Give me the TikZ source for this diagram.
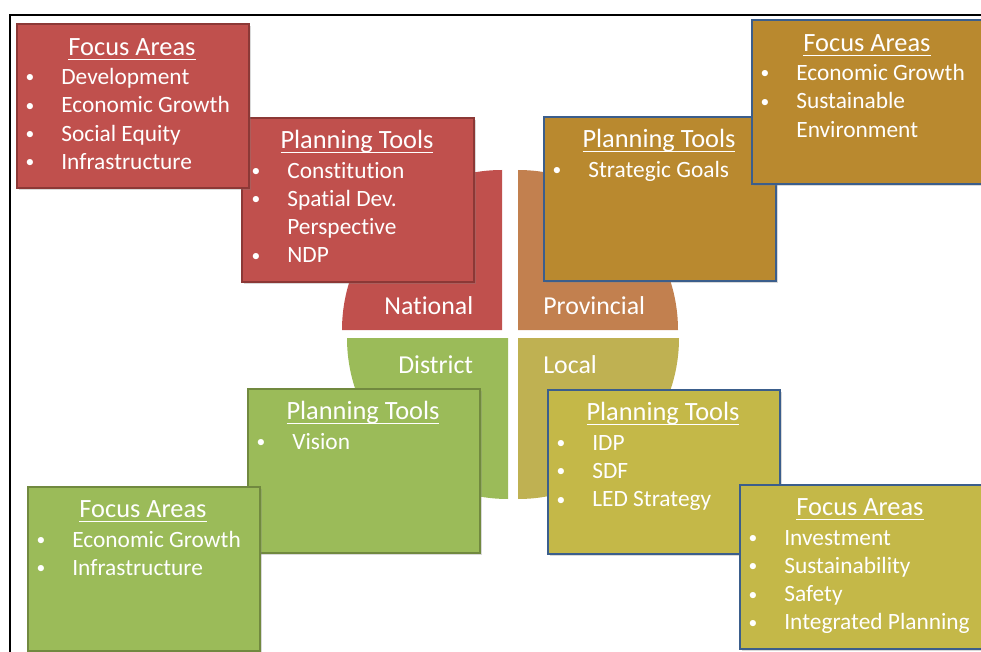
\documentclass[tikz,border=0pt]{standalone}
\usepackage{fontspec}
\setmainfont{Carlito}[Ligatures=NoCommon]
\usepackage{tikz}
\usetikzlibrary{shadows}

\definecolor{natred}{HTML}{C0504D}
\definecolor{natedge}{HTML}{8C3836}
\definecolor{provquad}{HTML}{C2804F}
\definecolor{provbox}{HTML}{B9892F}
\definecolor{distgreen}{HTML}{9BBB59}
\definecolor{distedge}{HTML}{71893F}
\definecolor{locquad}{HTML}{BFB152}
\definecolor{locbox}{HTML}{C4B848}
\definecolor{blueedge}{HTML}{3B5E8C}

% small bullet hanging left of the item text
\newcommand{\bl}{\llap{\raisebox{0.9pt}{\fontsize{10}{10}\selectfont\textbullet}\hspace{0.54cm}}}
% underlined heading
\newcommand{\ulhead}[1]{\setbox0\hbox{#1}\rlap{\rule[-2.5pt]{\wd0}{0.7pt}}\box0}

\begin{document}
\begin{tikzpicture}[x=0.02cm, y=-0.02cm,
  panel/.style={draw, line width=1.2pt, minimum width=4.64cm, minimum height=3.28cm,
    anchor=north west, inner sep=0pt,
    drop shadow={opacity=0.3, shadow xshift=1.2pt, shadow yshift=-1.2pt}},
  head/.style={text=white, inner sep=0pt, anchor=base, font=\fontsize{15}{18}\selectfont},
  item/.style={text=white, inner sep=0pt, anchor=base west, font=\fontsize{13.3}{16}\selectfont},
  level/.style={text=white, inner sep=0pt, anchor=base west, font=\fontsize{14.7}{18}\selectfont}]

  \useasboundingbox (0,0) rectangle (981,652);
  \clip (0,0) rectangle (981,652);
  \draw[line width=0.8pt] (10,15) rectangle (995,670);

  % the four quarters
  \fill[natred] (502,330) -- (342,330) arc[start angle=180, end angle=270, radius=160] -- cycle;
  \fill[provquad] (518,330) -- (678,330) arc[start angle=0, end angle=-90, radius=160] -- cycle;
  \fill[distgreen] (508,338) -- (347,338) arc[start angle=180, end angle=90, radius=161] -- cycle;
  \fill[locquad] (518,338) -- (679,338) arc[start angle=0, end angle=90, radius=161] -- cycle;

  \node[level] (national) at (384,314) {National};
  \node[level] (provincial) at (543,314) {Provincial};
  \node[level] (district) at (398,373) {District};
  \node[level] (local) at (543,373) {Local};

  % national
  \node[panel, fill=natred, draw=natedge] (natplan) at (241,117) {};
  \node[head] (natplan-t) at ([shift={(116,31.5)}]natplan.north west) {\ulhead{Planning Tools}};
  \foreach \t [count=\i] in {\bl Constitution, \bl Spatial Dev., Perspective, \bl NDP}
    \node[item] (natplan-\i) at ([shift={(46,61+28.3*\i-28.3)}]natplan.north west) {\t};

  \node[panel, fill=natred, draw=natedge] (natfocus) at (16,23) {};
  \node[head] (natfocus-t) at ([shift={(116,32.5)}]natfocus.north west) {\ulhead{Focus Areas}};
  \foreach \t [count=\i] in {\bl Development, \bl Economic Growth, \bl Social Equity, \bl Infrastructure}
    \node[item] (natfocus-\i) at ([shift={(45,61.5+28.3*\i-28.3)}]natfocus.north west) {\t};

  % provincial
  \node[panel, fill=provbox, draw=blueedge] (provplan) at (543,116) {};
  \node[head] (provplan-t) at ([shift={(116,31.5)}]provplan.north west) {\ulhead{Planning Tools}};
  \node[item] (provplan-1) at ([shift={(45,61)}]provplan.north west) {\bl Strategic Goals};

  \node[panel, fill=provbox, draw=blueedge] (provfocus) at (751,19) {};
  \node[head] (provfocus-t) at ([shift={(116,32.5)}]provfocus.north west) {\ulhead{Focus Areas}};
  \foreach \t [count=\i] in {\bl Economic Growth, \bl Sustainable, Environment}
    \node[item] (provfocus-\i) at ([shift={(45,61.5+28.3*\i-28.3)}]provfocus.north west) {\t};

  % district
  \node[panel, fill=distgreen, draw=distedge] (distplan) at (247,388) {};
  \node[head] (distplan-t) at ([shift={(116,31.5)}]distplan.north west) {\ulhead{Planning Tools}};
  \node[item] (distplan-1) at ([shift={(45,61)}]distplan.north west) {\bl Vision};

  \node[panel, fill=distgreen, draw=distedge] (distfocus) at (27,486) {};
  \node[head] (distfocus-t) at ([shift={(116,31.5)}]distfocus.north west) {\ulhead{Focus Areas}};
  \foreach \t [count=\i] in {\bl Economic Growth, \bl Infrastructure}
    \node[item] (distfocus-\i) at ([shift={(45,61+28.3*\i-28.3)}]distfocus.north west) {\t};

  % local
  \node[panel, fill=locbox, draw=blueedge] (locplan) at (547,389) {};
  \node[head] (locplan-t) at ([shift={(116,31.5)}]locplan.north west) {\ulhead{Planning Tools}};
  \foreach \t [count=\i] in {\bl IDP, \bl SDF, \bl LED Strategy}
    \node[item] (locplan-\i) at ([shift={(45,61+28.3*\i-28.3)}]locplan.north west) {\t};

  \node[panel, fill=locbox, draw=blueedge, minimum width=4.84cm] (locfocus) at (739,484) {};
  \node[head] (locfocus-t) at ([shift={(121,31.5)}]locfocus.north west) {\ulhead{Focus Areas}};
  \foreach \t [count=\i] in {\bl Investment, \bl Sustainability, \bl Safety, \bl Integrated Planning}
    \node[item] (locfocus-\i) at ([shift={(45,61+28.3*\i-28.3)}]locfocus.north west) {\t};
\end{tikzpicture}
\end{document}
